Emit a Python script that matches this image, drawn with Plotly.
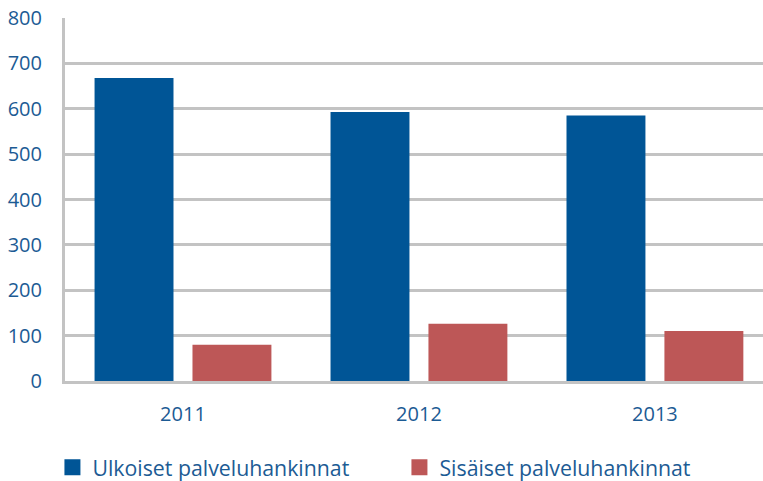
import plotly.graph_objects as go

years = ["2011", "2012", "2013"]
ulkoiset = [668, 593, 585]
sisaiset = [80, 126, 110]
series_names = ["Ulkoiset palveluhankinnat", "Sisäiset palveluhankinnat"]
y_ticks = [0, 100, 200, 300, 400, 500, 600, 700, 800]

BLUE = "#005596"
RED = "#bd5757"
TEXT = "#1c5b94"
GRID = "#c3c3c3"
FONT = "Open Sans"

fig = go.Figure()
fig.add_trace(go.Bar(x=years, y=ulkoiset, name=series_names[0], marker_color=BLUE,
                     marker_line_width=0, showlegend=False))
fig.add_trace(go.Bar(x=years, y=sisaiset, name=series_names[1], marker_color=RED,
                     marker_line_width=0, showlegend=False))
# legend entries with larger square symbols
fig.add_trace(go.Scatter(x=[None], y=[None], mode="markers", name=series_names[0],
                         marker=dict(symbol="square", size=17, color=BLUE)))
fig.add_trace(go.Scatter(x=[None], y=[None], mode="markers", name=series_names[1],
                         marker=dict(symbol="square", size=17, color=RED)))

fig.update_layout(
    width=763, height=481,
    margin=dict(l=65, r=0, t=18, b=100, autoexpand=False),
    paper_bgcolor="white", plot_bgcolor="white",
    font=dict(family=FONT, color=TEXT, size=20),
    barmode="group", bargap=0.17, bargroupgap=0.194,
    showlegend=True,
    legend=dict(orientation="h", x=-0.018, xanchor="left", y=-0.238, yanchor="middle",
                font=dict(size=21.3, color=TEXT), entrywidth=302, itemsizing="trace",
                tracegroupgap=0),
)
fig.update_xaxes(type="category", range=[-0.5, 2.458], showgrid=False, automargin=False,
                 showline=True, linecolor=GRID, linewidth=3,
                 ticks="", ticklabelstandoff=13, tickfont=dict(size=20, color=TEXT))
fig.update_yaxes(range=[0, 800], tickvals=y_ticks, showgrid=True, gridcolor=GRID, gridwidth=3,
                 showline=True, linecolor=GRID, linewidth=3, zeroline=False, automargin=False,
                 ticks="", ticklabelstandoff=16, tickfont=dict(size=20, color=TEXT))

fig.write_html("out.html", config={"displayModeBar": False},
               post_script="document.body.style.margin='0';document.body.style.overflow='hidden';")
